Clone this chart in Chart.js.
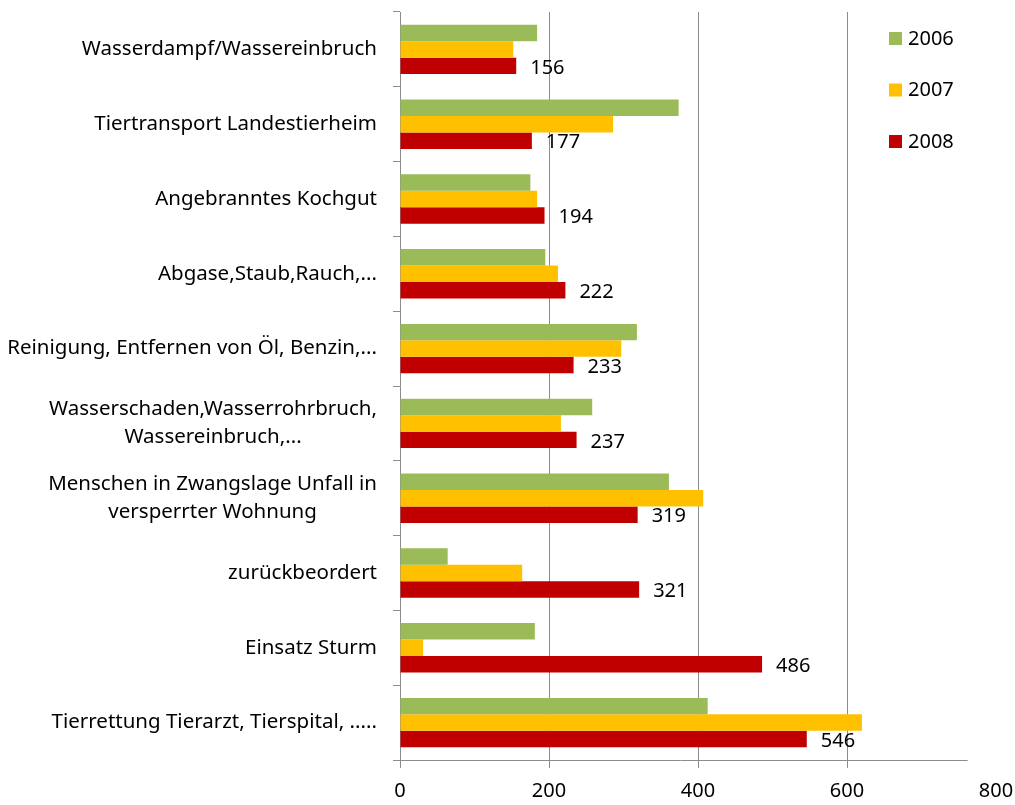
<!DOCTYPE html>
<html>
<head>
<meta charset="utf-8">
<script src="https://cdn.jsdelivr.net/npm/chart.js@4"></script>
<style>
  body { margin: 0; background: #fff; }
</style>
</head>
<body>
<canvas id="myChart" width="1015" height="805"></canvas>
<script>
const categories = [
    "Wasserdampf/Wassereinbruch",
    "Tiertransport Landestierheim",
    "Angebranntes Kochgut",
    "Abgase,Staub,Rauch,...",
    "Reinigung, Entfernen von Öl, Benzin,...",
    ["Wasserschaden,Wasserrohrbruch,", "Wassereinbruch,..."],
    ["Menschen in Zwangslage Unfall in", "versperrter Wohnung"],
    "zurückbeordert",
    "Einsatz Sturm",
    "Tierrettung Tierarzt, Tierspital, ....."
]
const years = ["2006", "2007", "2008"]
const values2006 = [184, 374, 175, 195, 318, 258, 361, 64, 181, 413]
const values2007 = [152, 286, 184, 212, 297, 216, 407, 164, 31, 620]
const values2008 = [156, 177, 194, 222, 233, 237, 319, 321, 486, 546]
const xTicks = [0, 200, 400, 600, 800]

const colors = ["#9BBB59", "#FFC000", "#C00000"]
const font = '"Noto Sans", sans-serif'

// category labels (centered lines, right aligned block), value labels, legend
const extras = {
    id: "extras",
    afterDraw(chart) {
        const ctx = chart.ctx
        const ys = chart.scales.y
        const xs = chart.scales.x
        ctx.save()

        // bottom axis line, stops short of the 800 label like the original
        ctx.strokeStyle = "#8C8C8C"
        ctx.lineWidth = 1
        ctx.beginPath()
        ctx.moveTo(ys.right - 7, xs.top + 0.5)
        ctx.lineTo(xs.getPixelForValue(762), xs.top + 0.5)
        ctx.stroke()

        ctx.fillStyle = "#000"
        ctx.textBaseline = "middle"

        ctx.font = "20.5px " + font
        ctx.textAlign = "center"
        categories.forEach((lab, i) => {
            let lines = Array.isArray(lab) ? lab : [lab]
            let w = Math.max(...lines.map(l => ctx.measureText(l).width))
            let cx = ys.right - 23 - w / 2
            let cy = ys.getPixelForValue(i)
            lines.forEach((l, k) => {
                ctx.fillText(l, cx, cy + (k - (lines.length - 1) / 2) * 28)
            })
        })

        ctx.font = "20px " + font
        ctx.textAlign = "left"
        chart.getDatasetMeta(2).data.forEach((bar, i) => {
            ctx.fillText(values2008[i], bar.x + 14, bar.y + 2)
        })

        chart.data.datasets.forEach((ds, i) => {
            let y = 38 + i * 51.5
            ctx.fillStyle = ds.backgroundColor
            ctx.fillRect(889, y - 6, 13, 13)
            ctx.fillStyle = "#000"
            ctx.fillText(ds.label, 908, y + 1)
        })
        ctx.restore()
    }
}

new Chart("myChart", {
    type: "bar",
    data: {
        labels: categories,
        datasets: [{
            label: years[0],
            data: values2006,
            backgroundColor: colors[0]
        }, {
            label: years[1],
            data: values2007,
            backgroundColor: colors[1]
        }, {
            label: years[2],
            data: values2008,
            backgroundColor: colors[2]
        }]
    },
    options: {
        indexAxis: "y",
        responsive: false,
        animation: false,
        layout: {padding: {top: 12, right: 0, bottom: 0, left: 0}},
        datasets: {bar: {categoryPercentage: 0.66, barPercentage: 1.0}},
        plugins: {
            legend: {display: false},
            tooltip: {enabled: false}
        },
        scales: {
            x: {
                min: 0,
                max: 800,
                afterBuildTicks: s => { s.ticks = xTicks.map(v => ({value: v})) },
                afterFit: s => { s.height = 45; s.paddingRight = 19 },
                grid: {
                    color: c => (c.tick && (c.tick.value === 0 || c.tick.value === 800)) ? "rgba(0,0,0,0)" : "#8C8C8C",
                    tickColor: c => (c.tick && c.tick.value === 800) ? "rgba(0,0,0,0)" : "#8C8C8C",
                    tickLength: 8
                },
                border: {display: false},
                ticks: {
                    color: "#000",
                    padding: 11,
                    font: {family: font, size: 20}
                }
            },
            y: {
                afterFit: s => { s.width = 400 },
                grid: {
                    drawOnChartArea: false,
                    tickLength: 7,
                    color: "#8C8C8C"
                },
                border: {color: "#8C8C8C"},
                ticks: {display: false}
            }
        }
    },
    plugins: [extras]
})
</script>
</body>
</html>
